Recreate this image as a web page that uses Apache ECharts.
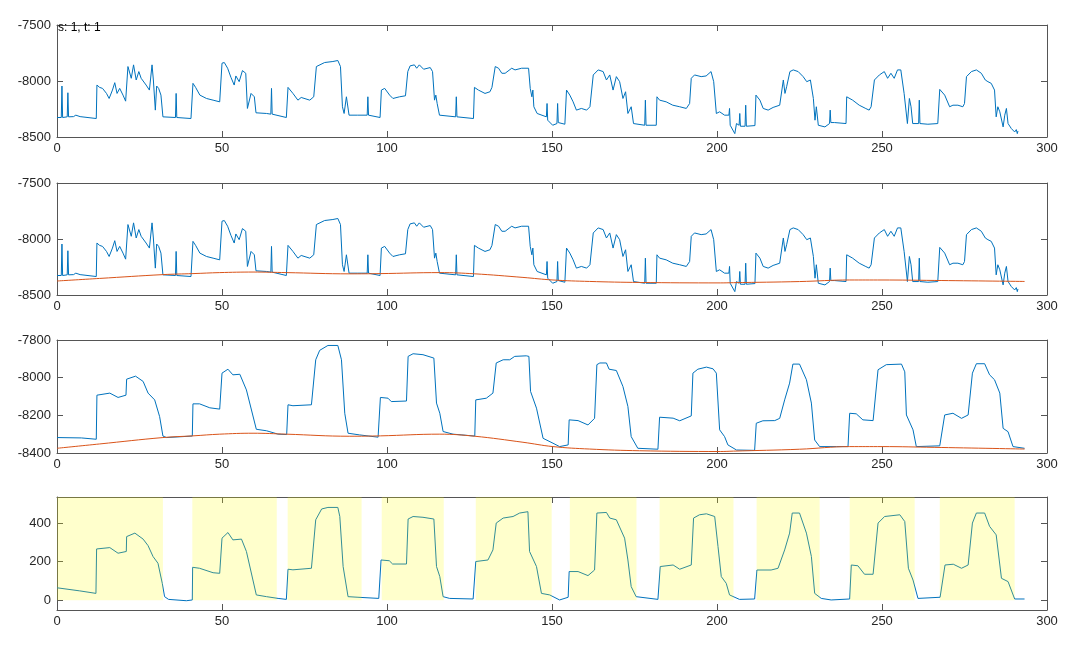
<!DOCTYPE html>
<html><head><meta charset="utf-8">
<script src="https://cdn.jsdelivr.net/npm/echarts@6/dist/echarts.min.js"></script>
<style>html,body{margin:0;padding:0;background:#fff}#c{width:1080px;height:660px}</style>
</head><body><div id="c"></div>
<script>
// x tick labels shared by all panels
const xTicks = [0, 50, 100, 150, 200, 250, 300];
const titleText = 's: 1, t: 1';

// raw signal (panels 1 and 2)
const rawX = [0,1.3,1.5,1.7,3.1,3.3,3.5,5.0,5.7,7.0,11.9,12.1,12.9,13.8,15.0,15.8,16.8,17.5,18.2,19.0,20.0,20.8,21.5,22.0,22.5,23.2,24.0,24.8,25.5,27.0,28.0,28.8,29.2,29.8,30.2,30.8,31.5,32.1,35.9,36.1,36.3,40.6,41.2,42.0,43.3,45.3,47.3,49.3,50.0,50.7,51.7,52.7,53.7,54.2,55.2,56.2,57.2,57.7,58.8,59.8,60.3,63.5,64.8,65.0,65.2,69.5,70.0,71.5,73.0,74.0,76.6,77.8,78.6,81.1,83.6,85.1,85.9,86.5,87.0,87.7,88.2,88.5,91.0,94.0,94.2,94.4,97.9,98.3,99.3,100.8,101.8,103.8,105.6,106.3,107.0,108.3,109.0,109.8,111.1,113.1,113.8,114.4,114.8,115.2,115.9,120.8,121.0,121.2,126.2,126.5,127.7,129.7,131.2,131.8,132.8,133.8,134.8,135.8,137.8,138.8,140.8,142.9,143.4,143.9,144.2,144.5,145.5,148.3,148.5,148.7,150.2,151.5,151.7,151.9,153.9,154.4,155.4,156.4,157.4,158.9,160.5,161.5,162.5,164.0,165.5,166.5,167.5,168.5,169.5,170.5,171.5,172.3,173.0,174.0,174.7,178.1,178.3,178.5,181.6,181.8,182.6,184.6,186.6,188.7,190.7,191.7,192.2,193.2,195.2,196.7,198.2,199.0,199.8,200.8,202.3,203.6,203.8,204.0,205.4,205.9,206.7,206.9,207.1,208.5,208.7,208.9,211.5,211.8,213.0,214.0,215.5,217.0,219.0,219.6,220.1,220.6,221.1,222.1,223.1,224.6,226.1,227.2,228.3,228.5,229.2,229.7,230.1,230.7,232.7,234.1,234.3,234.5,235.6,239.1,239.3,241.1,243.1,245.1,246.1,246.7,247.7,249.2,250.7,251.7,252.7,253.7,254.7,255.7,256.7,257.7,258.3,258.8,259.3,261.1,261.3,261.5,263.9,266.9,267.5,269.0,270.5,271.5,273.0,274.5,275.0,275.6,277.1,278.6,280.1,281.3,282.1,283.1,284.1,284.6,285.1,285.7,286.7,287.2,287.7,288.2,289.2,290.2,290.7,291.0,291.2];
const rawY = [-8326,-8326,-8045,-8326,-8320,-8105,-8320,-8318,-8305,-8318,-8335,-8036,-8057,-8066,-8111,-8156,-8081,-8015,-8111,-8066,-8126,-8180,-7871,-7856,-7976,-7856,-7991,-7916,-7976,-8036,-8081,-7856,-7991,-8260,-8045,-8066,-8126,-8320,-8326,-8111,-8326,-8335,-8021,-8057,-8126,-8156,-8171,-8186,-7841,-7835,-7886,-7967,-8036,-7955,-8006,-7907,-7931,-8245,-8111,-8141,-8284,-8290,-8296,-8066,-8296,-8326,-8057,-8111,-8171,-8147,-8171,-8141,-7871,-7835,-7826,-7817,-7871,-8230,-8290,-8141,-8126,-8305,-8305,-8305,-8141,-8305,-8326,-8081,-8066,-8126,-8156,-8141,-8132,-7916,-7865,-7856,-7886,-7856,-7895,-7880,-7916,-8171,-8126,-8201,-8305,-8320,-8141,-8320,-8335,-8057,-8081,-8111,-8096,-8057,-7871,-7886,-7931,-7931,-7886,-7901,-7886,-7886,-8066,-8141,-8081,-8230,-8290,-8320,-8201,-8350,-8395,-8380,-8201,-8371,-8386,-8081,-8126,-8186,-8260,-8245,-8260,-8230,-7946,-7901,-7916,-7991,-7946,-8081,-7961,-8006,-8156,-8096,-8290,-8230,-8380,-8395,-8171,-8395,-8395,-8141,-8171,-8186,-8216,-8230,-8245,-8201,-7976,-7946,-7961,-7955,-7916,-8006,-8290,-8275,-8305,-8305,-8245,-8395,-8470,-8380,-8395,-8290,-8404,-8404,-8216,-8404,-8398,-8126,-8171,-8245,-8260,-8236,-8216,-8230,-7991,-8111,-8051,-7916,-7901,-7916,-7961,-8006,-7991,-7976,-8156,-8350,-8230,-8395,-8410,-8380,-8260,-8371,-8371,-8380,-8141,-8171,-8216,-8246,-8260,-8230,-7991,-7946,-7916,-7976,-7931,-7976,-7901,-7901,-8111,-8380,-8156,-8230,-8380,-8380,-8171,-8380,-8386,-8380,-8075,-8126,-8230,-8216,-8216,-8230,-8201,-7961,-7916,-7901,-7931,-7991,-8006,-8021,-8081,-8320,-8230,-8275,-8410,-8305,-8245,-8380,-8425,-8455,-8434,-8470,-8446];

// smoothed signal (panel 3)
const smoothX = [0,7.4,11.9,12.1,16.0,18.5,20.9,21.1,23.8,26.1,27.6,29.6,31.1,32.1,33.2,41.0,41.2,43.2,46.3,49.3,50.0,51.8,53.3,55.4,57.4,60.4,63.5,67.0,69.6,70.0,71.5,77.1,78.4,79.6,82.1,85.1,86.2,87.2,88.2,91.7,97.3,98.0,100.3,101.3,105.9,106.4,107.9,110.9,114.2,115.0,116.0,117.0,120.0,126.6,126.9,130.1,132.1,133.1,135.2,137.2,138.7,142.2,143.0,143.5,145.3,147.3,150.3,152.3,154.9,155.2,157.9,160.9,162.9,163.6,164.5,166.5,167.3,169.5,171.5,173.0,174.0,176.0,182.1,182.6,186.7,188.7,192.2,192.7,194.2,196.8,198.8,199.8,200.8,202.3,203.3,205.9,211.4,211.9,213.9,217.5,219.0,220.5,222.0,223.0,225.0,227.1,228.6,229.6,231.1,236.2,239.7,240.2,242.2,244.2,247.3,248.8,251.3,255.9,256.9,257.4,259.4,260.4,267.5,269.0,271.5,274.1,276.1,277.4,278.6,281.1,282.6,284.1,285.7,286.7,288.2,289.7,293.2];
const smoothY = [-8318,-8320,-8327,-8093,-8082,-8105,-8093,-8008,-7992,-8020,-8082,-8118,-8207,-8310,-8318,-8310,-8139,-8139,-8160,-8167,-7976,-7955,-7985,-7982,-8065,-8274,-8282,-8300,-8302,-8144,-8149,-8144,-7905,-7855,-7829,-7829,-7905,-8189,-8295,-8304,-8316,-8105,-8109,-8127,-8124,-7887,-7873,-7878,-7896,-8135,-8189,-8286,-8300,-8310,-8118,-8109,-8082,-7922,-7905,-7905,-7887,-7884,-7887,-8073,-8162,-8322,-8348,-8366,-8357,-8224,-8228,-8251,-8216,-7931,-7922,-7922,-7955,-7962,-8047,-8153,-8313,-8375,-8380,-8210,-8215,-8229,-8203,-7976,-7955,-7944,-7953,-7976,-8277,-8313,-8357,-8384,-8386,-8242,-8229,-8228,-8216,-8118,-8029,-7928,-7928,-8011,-8135,-8331,-8366,-8366,-8366,-8189,-8192,-8224,-8228,-7958,-7931,-7928,-7969,-8198,-8277,-8366,-8362,-8198,-8189,-8216,-8198,-7976,-7926,-7926,-7985,-8011,-8082,-8269,-8287,-8366,-8375];

// baseline (red, panels 2 and 3)
const baseX = [0,12.9,32.1,41.2,49.3,59.4,69.5,88.7,98,116,126.6,141.2,150.3,161.4,176.5,201,205,225,240.2,250,265.8,293.2];
const baseY = [-8375,-8352,-8318,-8309,-8300,-8295,-8300,-8311,-8309,-8300,-8311,-8343,-8366,-8379,-8388,-8392,-8390,-8380,-8366,-8366,-8370,-8379];

// corrected signal (panel 4)
const diffX = [0,6.9,11.8,12.0,16.0,18.5,21.0,21.1,23.6,26.1,27.6,29.1,30.6,31.9,32.6,33.8,39.2,41.0,41.1,43.2,47.3,49.3,50.0,51.8,53.3,55.9,57.4,60.4,63.5,67.0,69.5,70.0,71.5,77.1,78.4,80.2,82.1,85.1,85.7,86.7,88.2,91.2,97.5,98.2,100.7,101.7,105.9,106.4,107.9,110.9,114.2,115.0,116.0,117.0,119.0,126.1,126.9,130.6,132.1,133.1,135.2,138.2,140.2,142.7,143.2,145.3,146.8,149.3,152.3,154.9,155.2,157.9,160.9,162.9,163.6,166.5,167.5,169.5,172.0,173.0,174.0,175.5,182.1,182.8,186.7,188.7,192.2,192.9,194.7,196.8,199.3,200.3,201.3,202.8,203.8,206.8,211.4,212.1,216.4,218.5,220.5,222.0,222.8,225.0,227.1,228.6,229.6,231.6,234.6,240.2,240.7,242.7,244.7,247.3,248.8,250.8,255.4,256.9,258.0,259.4,260.9,267.6,269.1,271.6,274.1,276.1,277.4,278.6,281.1,282.6,284.6,286.2,288.2,290.2,293.2];
const diffY = [65,49,36,266,273,244,253,330,348,317,283,227,192,88,19,5,-2,2,171,166,143,140,322,351,313,317,253,28,19,10,5,161,158,166,417,473,481,481,434,175,19,16,10,209,205,188,188,421,434,430,421,175,123,19,10,7,201,209,261,400,426,434,452,459,253,175,36,28,2,16,149,149,128,157,452,455,426,417,322,209,71,19,5,175,183,161,183,426,443,448,434,279,123,88,28,5,7,157,157,166,261,348,452,452,348,227,36,10,2,7,183,179,135,135,400,434,443,408,166,105,10,16,183,187,166,183,400,452,452,383,339,114,97,7,7];

// shaded (active) intervals in panel 4
const shadeStart = [0,41,69.9,98.4,126.9,155.4,182.6,212,240.2,267.5];
const shadeEnd = [32.1,66.6,92.3,117.2,149.9,175.6,205,231.1,259.9,290.2];

// y axis settings per panel
const yMins = [-8500,-8500,-8400,-50];
const yMaxs = [-7500,-7500,-7800,535];
const yTickVals = [[-8500,-8000,-7500],[-8500,-8000,-7500],[-8400,-8200,-8000,-7800],[0,200,400]];

const FONT = '"Liberation Sans", Arial, Helvetica, sans-serif';
const AX = '#555555';
const BLUE = '#0072BD';
const RED = '#D95319';

const gridTops = [25, 183, 340, 497];
const gridHeights = [112, 112, 113, 113];

const pair = (xs, ys) => xs.map((x, i) => [x, ys[i]]);

const grid = [], xAxis = [], yAxis = [];
for (let i = 0; i < 4; i++) {
  grid.push({left: 57, width: 990, top: gridTops[i], height: gridHeights[i], containLabel: false});
  const xBase = {
    gridIndex: i, type: 'value', min: xTicks[0], max: xTicks[xTicks.length - 1], interval: 50,
    axisLine: {onZero: false, lineStyle: {color: AX, width: 1}},
    axisTick: {inside: true, length: 6, lineStyle: {color: AX}},
    splitLine: {show: false}
  };
  xAxis.push(Object.assign({}, xBase, {position: 'bottom',
    axisLabel: {color: '#262626', fontSize: 13, fontFamily: FONT, margin: 5, formatter: v => String(v)}}));
  xAxis.push(Object.assign({}, xBase, {position: 'top', axisLabel: {show: false}}));
  const yBase = {
    gridIndex: i, type: 'value', min: yMins[i], max: yMaxs[i],
    axisLine: {onZero: false, lineStyle: {color: AX, width: 1}},
    axisTick: {inside: true, length: 6, lineStyle: {color: AX}, customValues: yTickVals[i]},
    splitLine: {show: false}
  };
  yAxis.push(Object.assign({}, yBase, {position: 'left',
    axisLabel: {color: '#262626', fontSize: 13, fontFamily: FONT, margin: 6, customValues: yTickVals[i], formatter: v => String(v)}}));
  yAxis.push(Object.assign({}, yBase, {position: 'right', axisLabel: {show: false}}));
}

const lineS = (gi, data, color, z) => ({
  type: 'line', xAxisIndex: gi * 2, yAxisIndex: gi * 2, data: data,
  showSymbol: false, symbol: 'none', z: z || 2,
  lineStyle: {color: color, width: 1}, itemStyle: {color: color},
  emphasis: {disabled: true}, silent: true
});

const series = [
  lineS(0, pair(rawX, rawY), BLUE),
  lineS(1, pair(rawX, rawY), BLUE),
  Object.assign(lineS(1, pair(baseX, baseY), RED, 3), {smooth: 0.4}),
  lineS(2, pair(smoothX, smoothY), BLUE),
  Object.assign(lineS(2, pair(baseX, baseY), RED, 3), {smooth: 0.4}),
  lineS(3, pair(diffX, diffY), BLUE),
  {
    type: 'custom', xAxisIndex: 6, yAxisIndex: 6, z: 10, silent: true,
    data: shadeStart.map((s, i) => [s, shadeEnd[i]]),
    renderItem: function (params, api) {
      const p0 = api.coord([api.value(0), yMaxs[3]]);
      const p1 = api.coord([api.value(1), 0]);
      return {type: 'rect', shape: {x: p0[0], y: p0[1], width: p1[0] - p0[0], height: p1[1] - p0[1]},
              style: {fill: 'rgba(255,255,0,0.2)'}};
    }
  }
];

const chart = echarts.init(document.getElementById('c'), null, {renderer: 'canvas'});
chart.setOption({
  animation: false,
  backgroundColor: '#ffffff',
  title: {text: titleText, left: 58, top: 22, padding: 0, textStyle: {fontSize: 12, fontWeight: 'normal', color: '#000', fontFamily: FONT}},
  grid: grid, xAxis: xAxis, yAxis: yAxis, series: series
});
</script></body></html>
